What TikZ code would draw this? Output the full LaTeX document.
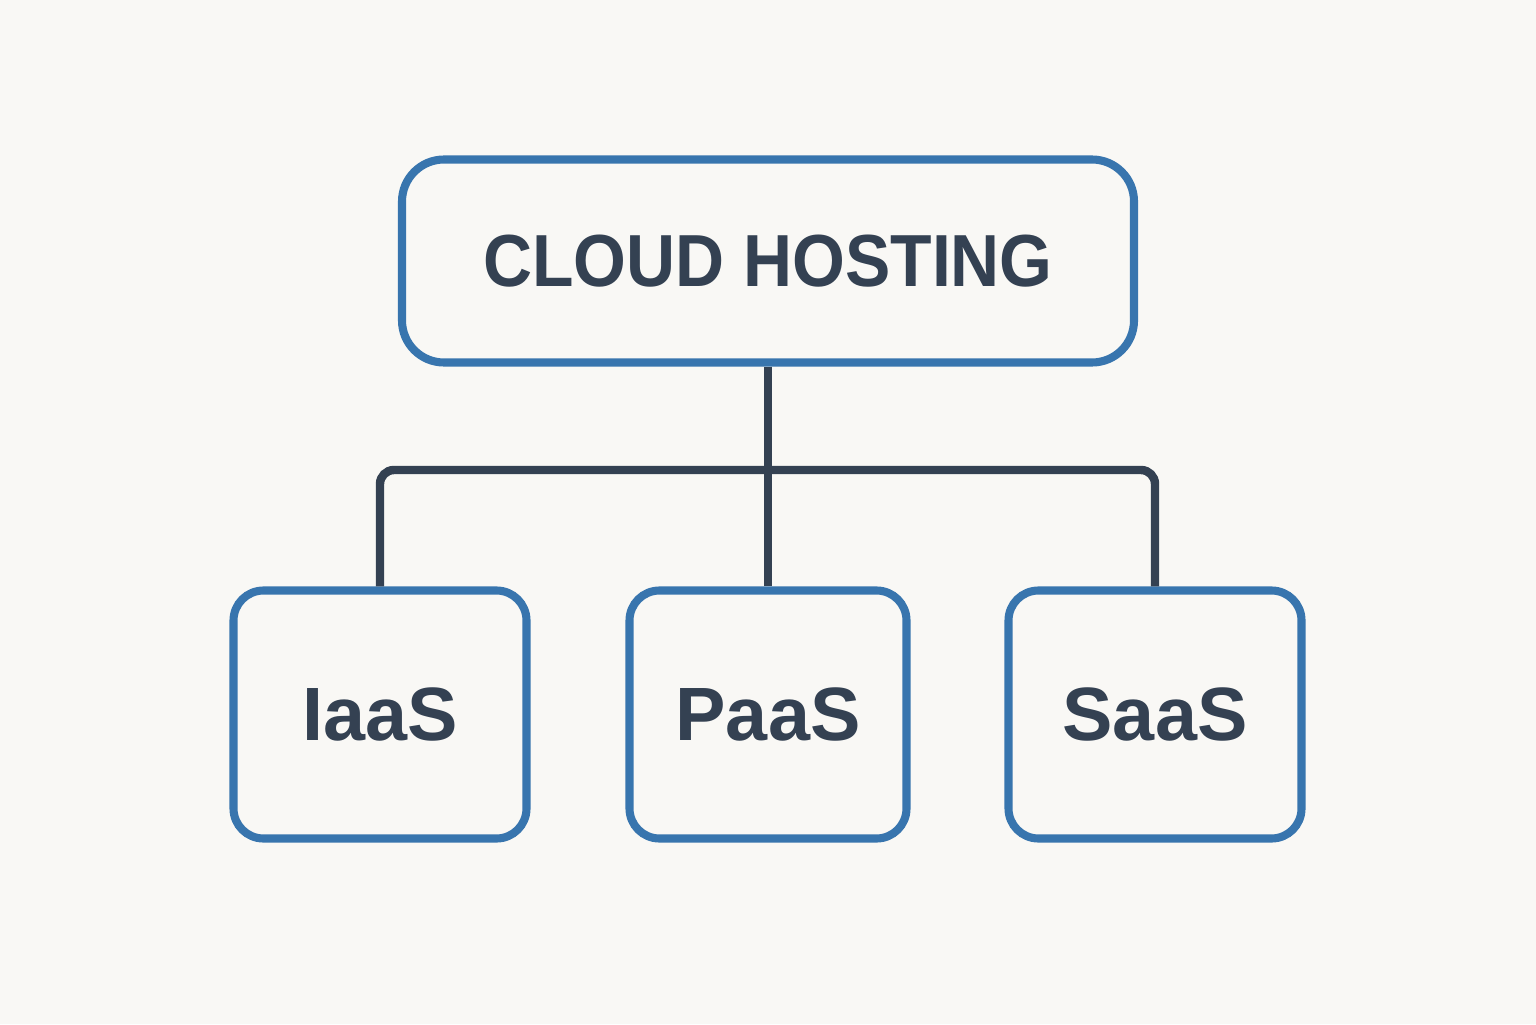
\documentclass[tikz,border=0pt]{standalone}
\usepackage{fontspec}
\setmainfont{Liberation Sans}
\newfontfamily\headfont[FakeStretch=0.92]{Liberation Sans}
\definecolor{bgpaper}{HTML}{F9F8F5}
\definecolor{boxblue}{HTML}{3875AE}
\definecolor{inkdark}{HTML}{344152}
\tikzset{
	box/.style={draw=boxblue, line width=2.3pt, fill=bgpaper, inner sep=0pt, text=inkdark},
	topbox/.style={box, rounded corners=0.42cm, minimum width=7.32cm, minimum height=2.03cm, font=\headfont\fontsize{21}{21}\selectfont\bfseries},
	subbox/.style={box, rounded corners=0.3cm, minimum height=2.48cm, font=\fontsize{21.5}{21.5}\selectfont\bfseries},
	conn/.style={draw=inkdark, line width=2.4pt, rounded corners=0.14cm}
}
\begin{document}
\begin{tikzpicture}
	\fill[bgpaper](0,0)rectangle(15.36,10.24);
	\useasboundingbox(0,0)rectangle(15.36,10.24);
	
	% connectors meet the boxes at their borders
	\coordinate (bar) at (7.68,5.54);
	
	\node[topbox] (cloud) at (7.68,7.63) {CLOUD HOSTING};
	\node[subbox, minimum width=2.93cm] (iaas) at (3.80,3.095) {IaaS};
	\node[subbox, minimum width=2.77cm] (paas) at (7.68,3.095) {PaaS};
	\node[subbox, minimum width=2.93cm] (saas) at (11.55,3.095) {SaaS};
	
	\draw[conn] (cloud.south) -- (paas.north);
	\draw[conn] (iaas.north) |- (bar) -| (saas.north);
\end{tikzpicture}
\end{document}
